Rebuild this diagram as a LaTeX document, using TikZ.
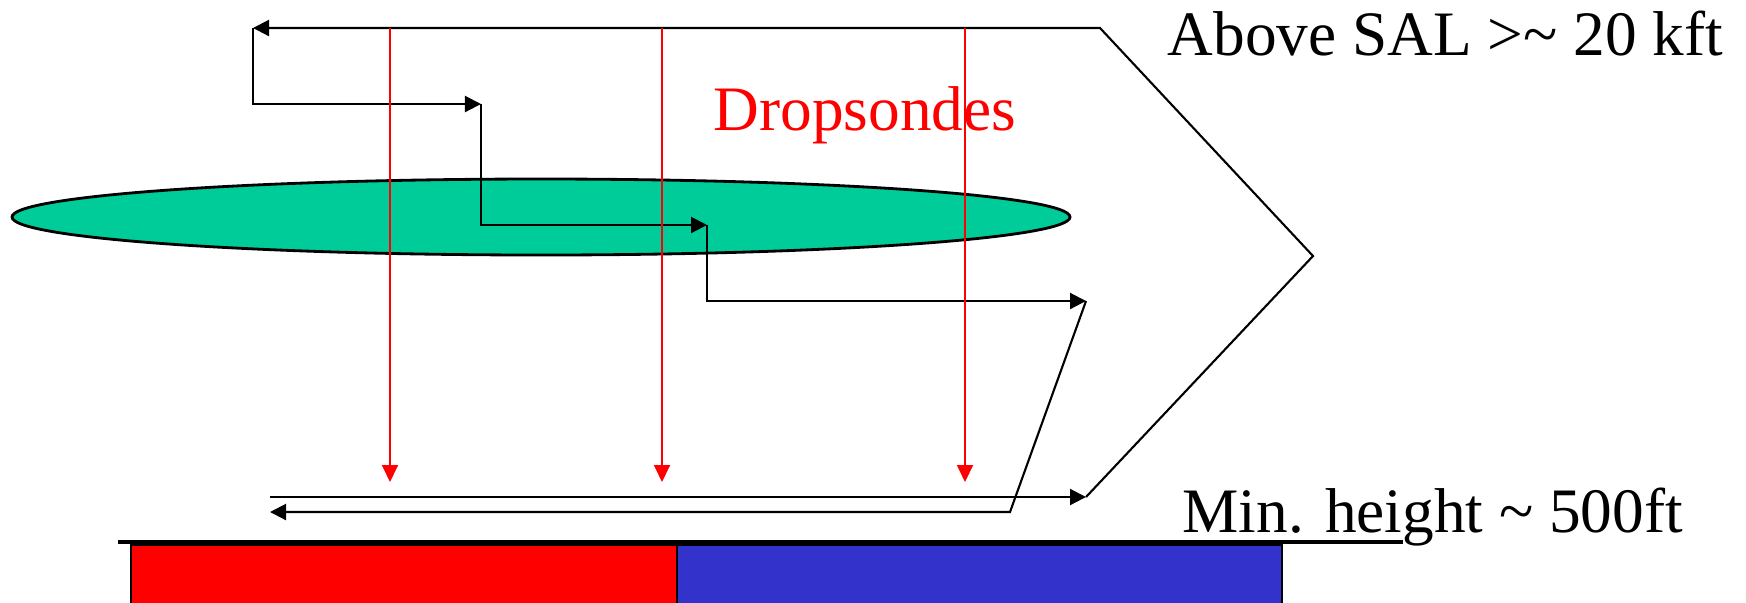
\documentclass[tikz,border=0pt]{standalone}
\usepackage{xcolor}
\usepackage{fontspec}
\setmainfont{Liberation Serif}
\usepackage{tikz}
\usetikzlibrary{arrows.meta,positioning,calc}
\definecolor{salgreen}{HTML}{00CC99}
\definecolor{salred}{HTML}{FF0000}
\definecolor{salblue}{HTML}{3333CC}
\tikzset{
  flleg/.style={-{Triangle[length=1.6mm,width=1.6mm]}, line width=0.6pt},
  flline/.style={line width=0.6pt},
  fldrop/.style={-{Triangle[length=1.7mm,width=1.6mm]}, draw=salred, line width=0.5pt},
  fllayer/.style={draw=black, line width=0.8pt, fill=salgreen},
  flground/.style={line width=1.3pt},
  fltext/.style={inner sep=0pt, anchor=base west, font=\fontsize{18}{20}\selectfont}
}

\begin{document}
\begin{tikzpicture}[x=0.01cm, y=-0.01cm]
  \useasboundingbox (0,0) rectangle (1746,602);
  % surface
  \fill[salred, draw=black, line width=0.3pt] (131,545) rectangle (677,604);
  \fill[salblue, draw=black, line width=0.3pt] (677,545) rectangle (1282,604);
  \draw[flground] (118,542) -- (1403,542);
  % dust layer
  \draw[fllayer] (541,217) ellipse [x radius=529, y radius=38];
  % flight track
  \coordinate (topL) at (253,28);
  \coordinate (topR) at (1100,28);
  \coordinate (tip) at (1313,256);
  \coordinate (lowL) at (270,497);
  \coordinate (lowR) at (1086,497);
  \coordinate (s1) at (481,104);
  \coordinate (s2) at (707,225);
  \coordinate (s3) at (1086,301);
  \coordinate (rt) at (1010,512);
  \coordinate (retL) at (270,512);
  \draw[flleg] (lowL) -- (lowR);
  \draw[flleg] (lowR) -- (tip) -- (topR) -- (topL);
  \draw[flleg] (topL) |- (s1);
  \draw[flleg] (s1) |- (s2);
  \draw[flleg] (s2) |- (s3);
  \draw[flleg] (s3) -- (rt) -- (retL);
  % sondes
  \foreach \sx in {390,662,965}
    \draw[fldrop] (\sx,28) -- (\sx,482);
  \node[fltext] (above) at (1167,55) {Above SAL >\textasciitilde{} 20 kft};
  \node[fltext, text=salred] (sondes) at (713,130) {Dropsondes};
  \node[fltext] (minh) at (1182,532) {Min. height \textasciitilde{} 500ft};
\end{tikzpicture}
\end{document}
